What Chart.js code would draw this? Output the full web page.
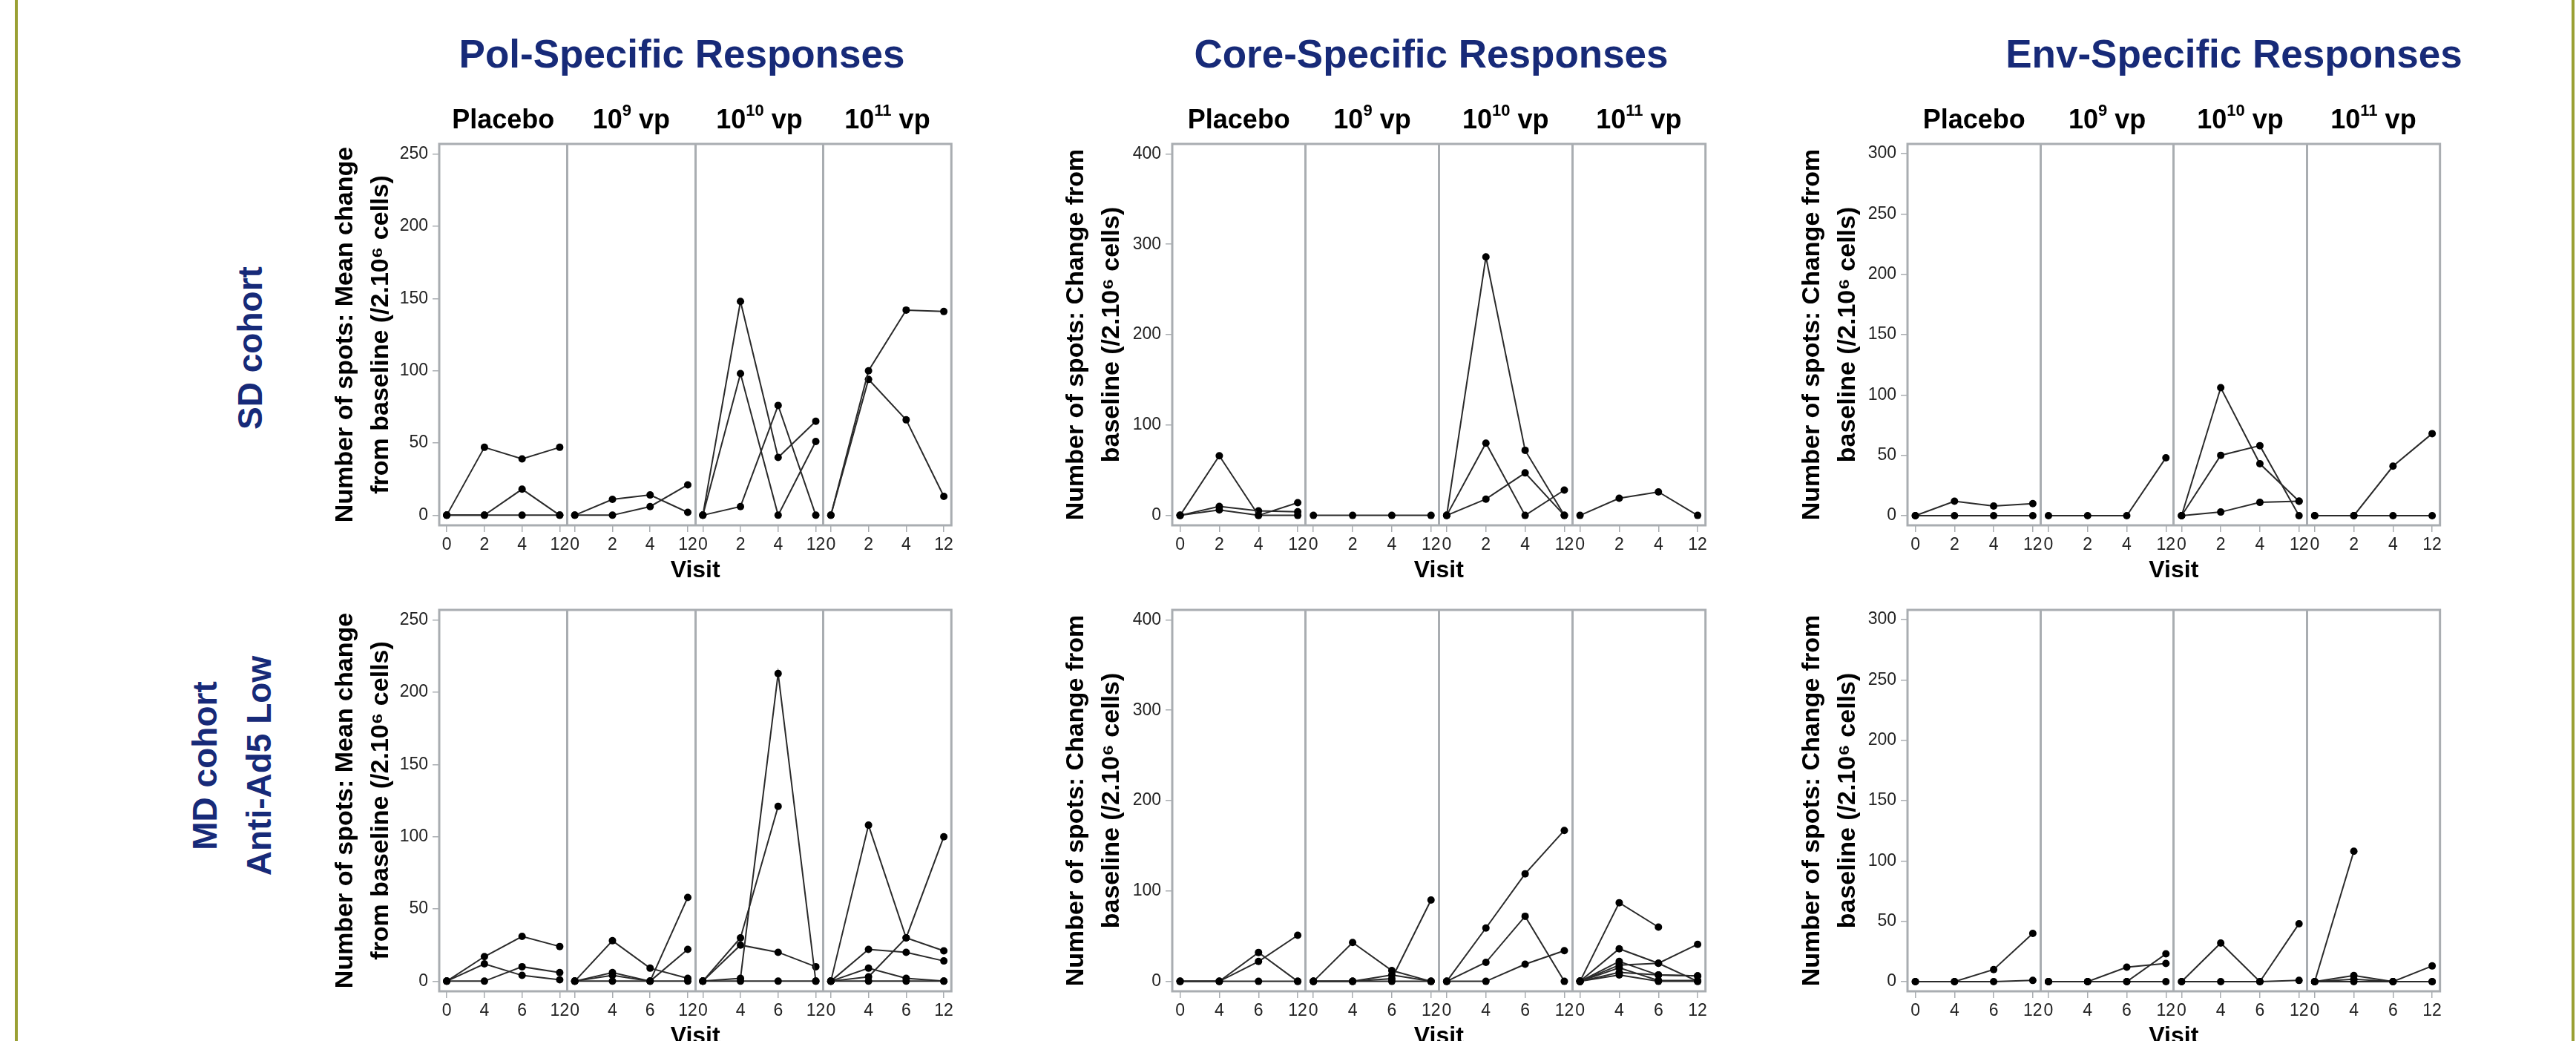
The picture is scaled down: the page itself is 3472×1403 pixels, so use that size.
<!DOCTYPE html>
<html>
<head>
<meta charset="utf-8">
<script src="https://cdn.jsdelivr.net/npm/chart.js@4.4.1/dist/chart.umd.min.js"></script>
<style>
  html, body { margin: 0; padding: 0; background: #fff; }
  body { width: 3472px; height: 1403px; position: relative; overflow: hidden;
         font-family: "Liberation Sans", Arial, sans-serif; }
  .edge { position: absolute; top: 0; bottom: 0; width: 4px; background: #9aa034; }
  .sec { position: absolute; top: 43px; line-height: 60px; color: #172a78; font-weight: bold;
         font-size: 53px; white-space: nowrap; transform: translateX(-50%); }
  .row { position: absolute; color: #172a78; font-weight: bold; font-size: 46px; white-space: nowrap;
         text-align: center; line-height: 73px; transform: translate(-50%, -50%) rotate(-90deg); }
  .head { position: absolute; font-weight: bold; font-size: 36px; line-height: 40px; color: #000;
          white-space: nowrap; transform: translate(-50%, -50%); }
  .head sup { font-size: 22px; position: relative; top: -3px; vertical-align: top; line-height: 22px; }
  canvas { position: absolute; }
</style>
</head>
<body>
<div class="edge" style="left:20px"></div>
<div class="edge" style="left:3466px"></div>

<div class="sec" style="left:919px">Pol-Specific Responses</div>
<div class="sec" style="left:1929px">Core-Specific Responses</div>
<div class="sec" style="left:3011px">Env-Specific Responses</div>

<div class="row" style="left:337px; top:469px">SD cohort</div>
<div class="row" style="left:313px; top:1032px">MD cohort<br>Anti-Ad5 Low</div>

<canvas id="polSD"></canvas>
<canvas id="coreSD"></canvas>
<canvas id="envSD"></canvas>
<canvas id="polMD"></canvas>
<canvas id="coreMD"></canvas>
<canvas id="envMD"></canvas>

<script>
// visit labels and dose panels
var visitsSD = ['0', '2', '4', '12'];
var visitsMD = ['0', '4', '6', '12'];
var doseBase = ['Placebo', '10', '10', '10'];
var doseExp = ['', '9', '10', '11'];
var doseUnit = ['', ' vp', ' vp', ' vp'];

// y tick labels
var polTicks = [0, 50, 100, 150, 200, 250];
var coreTicks = [0, 100, 200, 300, 400];
var envTicks = [0, 50, 100, 150, 200, 250, 300];

// one list of subject lines per dose panel (Placebo, 10^9, 10^10, 10^11)
var polSD = [
  [[0, 47, 39, 47], [0, 0, 18, 0], [0, 0, 0, 0]],
  [[0, 11, 14, 2], [0, 0, 6, 21]],
  [[0, 148, 40, 65], [0, 98, 0, 51], [0, 6, 76, 0]],
  [[0, 100, 142, 141], [0, 94, 66, 13]]
];
var polMD = [
  [[0, 17, 31, 24], [0, 12, 4, 1], [0, 0, 10, 6]],
  [[0, 28, 9, 2], [0, 6, 0, 58], [0, 4, 0, 22], [0, 0, 0, 0]],
  [[0, 2, 213, 0], [0, 30, 121, null], [0, 25, 20, 10], [0, 0, 0, 0]],
  [[0, 108, 30, 21], [0, 3, 30, 100], [0, 22, 20, 14], [0, 9, 2, 0], [0, 0, 0, 0]]
];
var coreSD = [
  [[0, 66, 0, 0], [0, 10, 5, 4], [0, 6, 0, 14]],
  [[0, 0, 0, 0]],
  [[0, 286, 72, 0], [0, 80, 0, 28], [0, 18, 47, 0]],
  [[0, 19, 26, 0]]
];
var coreMD = [
  [[0, 0, 32, 0], [0, 0, 22, 51], [0, 0, 0, 0]],
  [[0, 43, 12, 0], [0, 0, 7, 0], [0, 0, 3, 90], [0, 0, 0, 0]],
  [[0, 59, 119, 167], [0, 21, 72, 0], [0, 0, 19, 34]],
  [[0, 87, 60, null], [0, 36, 20, 0], [0, 18, 20, 41], [0, 22, 7, 6], [0, 15, 1, 1], [0, 10, 7, 6], [0, 7, 0, 0]]
];
var envSD = [
  [[0, 12, 8, 10], [0, 0, 0, 0]],
  [[0, 0, 0, 48]],
  [[0, 106, 43, 12], [0, 50, 58, 0], [0, 3, 11, 12]],
  [[0, 0, 41, 68], [0, 0, 0, 0]]
];
var envMD = [
  [[0, 0, 10, 40], [0, 0, 0, 1]],
  [[0, 0, 12, 15], [0, 0, 0, 23], [0, 0, 0, 0]],
  [[0, 32, 0, 48], [0, 0, 0, 1]],
  [[0, 108, null, null], [0, 5, 0, 13], [0, 2, 0, 0], [0, 0, 0, 0]]
];

var polTitle = ['Number of spots: Mean change', 'from baseline (/2.10⁶ cells)'];
var otherTitle = ['Number of spots: Change from', 'baseline (/2.10⁶ cells)'];

Chart.defaults.font.family = '"Liberation Sans", Arial, sans-serif';
var TICKFONT = {family: '"Liberation Sans", Arial, sans-serif', size: 23};

var SPAN = 3.4;      // width of one dose panel in x units
var XMIN = -0.2;
var XMAX = 4 * SPAN - 0.2;
var GRAY = '#a9adb1';

var framePlugin = {
  id: 'frame',
  beforeDatasetsDraw(chart) {
    var a = chart.chartArea, ctx = chart.ctx;
    ctx.save();
    ctx.strokeStyle = GRAY;
    ctx.lineWidth = 3;
    ctx.strokeRect(a.left, a.top, a.right - a.left, a.bottom - a.top);
    ctx.restore();
  }
};

function makeChart(id, panels, visits, yTicks, yMin, yMax, yTitle, box, heads) {
  var cv = document.getElementById(id);
  var topH = box.areaTop - box.top;
  var yW = box.areaLeft - box.left;
  var xH = 80;
  cv.width = box.areaRight - box.left + 6;
  cv.height = topH + (box.areaBottom - box.areaTop) + xH;
  cv.style.left = box.left + 'px';
  cv.style.top = box.top + 'px';

  var datasets = [];
  panels.forEach(function (lines, p) {
    lines.forEach(function (vals) {
      datasets.push({
        data: vals.map(function (v, i) { return {x: p * SPAN + i, y: v}; }),
        borderColor: '#2a2a2a',
        borderWidth: 2,
        pointRadius: 5,
        pointHoverRadius: 5,
        pointBackgroundColor: '#000',
        pointBorderWidth: 0,
        spanGaps: false
      });
    });
  });

  var tickPos = [], centers = [], dividers = [];
  for (var p = 0; p < 4; p++) {
    for (var i = 0; i < 4; i++) tickPos.push(p * SPAN + i);
    centers.push(p * SPAN + 1.5);
    if (p > 0) dividers.push(p * SPAN - 0.2);
  }

  var chart = new Chart(cv, {
    type: 'line',
    data: {datasets: datasets},
    options: {
      responsive: false,
      animation: false,
      layout: {padding: {left: 0, right: 6, top: topH, bottom: 0}},
      plugins: {legend: {display: false}, tooltip: {enabled: false}},
      scales: {
        x: {
          type: 'linear', min: XMIN, max: XMAX,
          afterBuildTicks: function (s) { s.ticks = tickPos.map(function (v) { return {value: v}; }); },
          ticks: {
            autoSkip: false, maxRotation: 0, padding: 4, color: '#222', font: TICKFONT,
            callback: function (v, i) { return visits[i % 4]; }
          },
          grid: {drawOnChartArea: false, tickLength: 9, color: GRAY, lineWidth: 1.5},
          border: {display: false},
          title: {display: true, text: 'Visit', color: '#000', padding: 0,
                  font: {size: 32, weight: 'bold'}},
          afterFit: function (s) { s.height = xH; }
        },
        xd: {
          type: 'linear', position: 'top', min: XMIN, max: XMAX, weight: 0,
          afterBuildTicks: function (s) { s.ticks = dividers.map(function (v) { return {value: v}; }); },
          ticks: {display: false},
          grid: {drawTicks: false, color: GRAY, lineWidth: 3},
          border: {display: false},
          afterFit: function (s) { s.height = 0; }
        },
        y: {
          min: yMin, max: yMax,
          afterBuildTicks: function (s) { s.ticks = yTicks.map(function (v) { return {value: v}; }); },
          ticks: {padding: 6, color: '#222', font: TICKFONT},
          grid: {drawOnChartArea: false, tickLength: 9, color: GRAY, lineWidth: 1.5},
          border: {display: false},
          title: {display: true, text: yTitle, color: '#000', padding: 0,
                  font: {size: 34, weight: 'bold', lineHeight: 1.42}},
          afterFit: function (s) { s.width = yW; }
        }
      }
    },
    plugins: [framePlugin]
  });

  if (heads) {
    centers.forEach(function (c, k) {
      var d = document.createElement('div');
      d.className = 'head';
      d.innerHTML = doseBase[k] + (doseExp[k] ? '<sup>' + doseExp[k] + '</sup>' : '') + doseUnit[k];
      d.style.left = (box.left + chart.scales.x.getPixelForValue(c)) + 'px';
      d.style.top = (box.areaTop - 33) + 'px';
      document.body.appendChild(d);
    });
  }
  return chart;
}

var topRow = {top: 130, areaTop: 194, areaBottom: 708};
var botRow = {top: 800, areaTop: 822, areaBottom: 1336};
function box(row, left, areaLeft, areaRight) {
  return {top: row.top, areaTop: row.areaTop, areaBottom: row.areaBottom,
          left: left, areaLeft: areaLeft, areaRight: areaRight};
}

makeChart('polSD', polSD, visitsSD, polTicks, -7, 257, polTitle, box(topRow, 441, 592, 1283), true);
makeChart('coreSD', coreSD, visitsSD, coreTicks, -11, 411, otherTitle, box(topRow, 1426, 1580, 2299), true);
makeChart('envSD', envSD, visitsSD, envTicks, -8, 308, otherTitle, box(topRow, 2418, 2571, 3289), true);
makeChart('polMD', polMD, visitsMD, polTicks, -7, 257, polTitle, box(botRow, 441, 592, 1283), false);
makeChart('coreMD', coreMD, visitsMD, coreTicks, -11, 411, otherTitle, box(botRow, 1426, 1580, 2299), false);
makeChart('envMD', envMD, visitsMD, envTicks, -8, 308, otherTitle, box(botRow, 2418, 2571, 3289), false);
</script>
</body>
</html>
